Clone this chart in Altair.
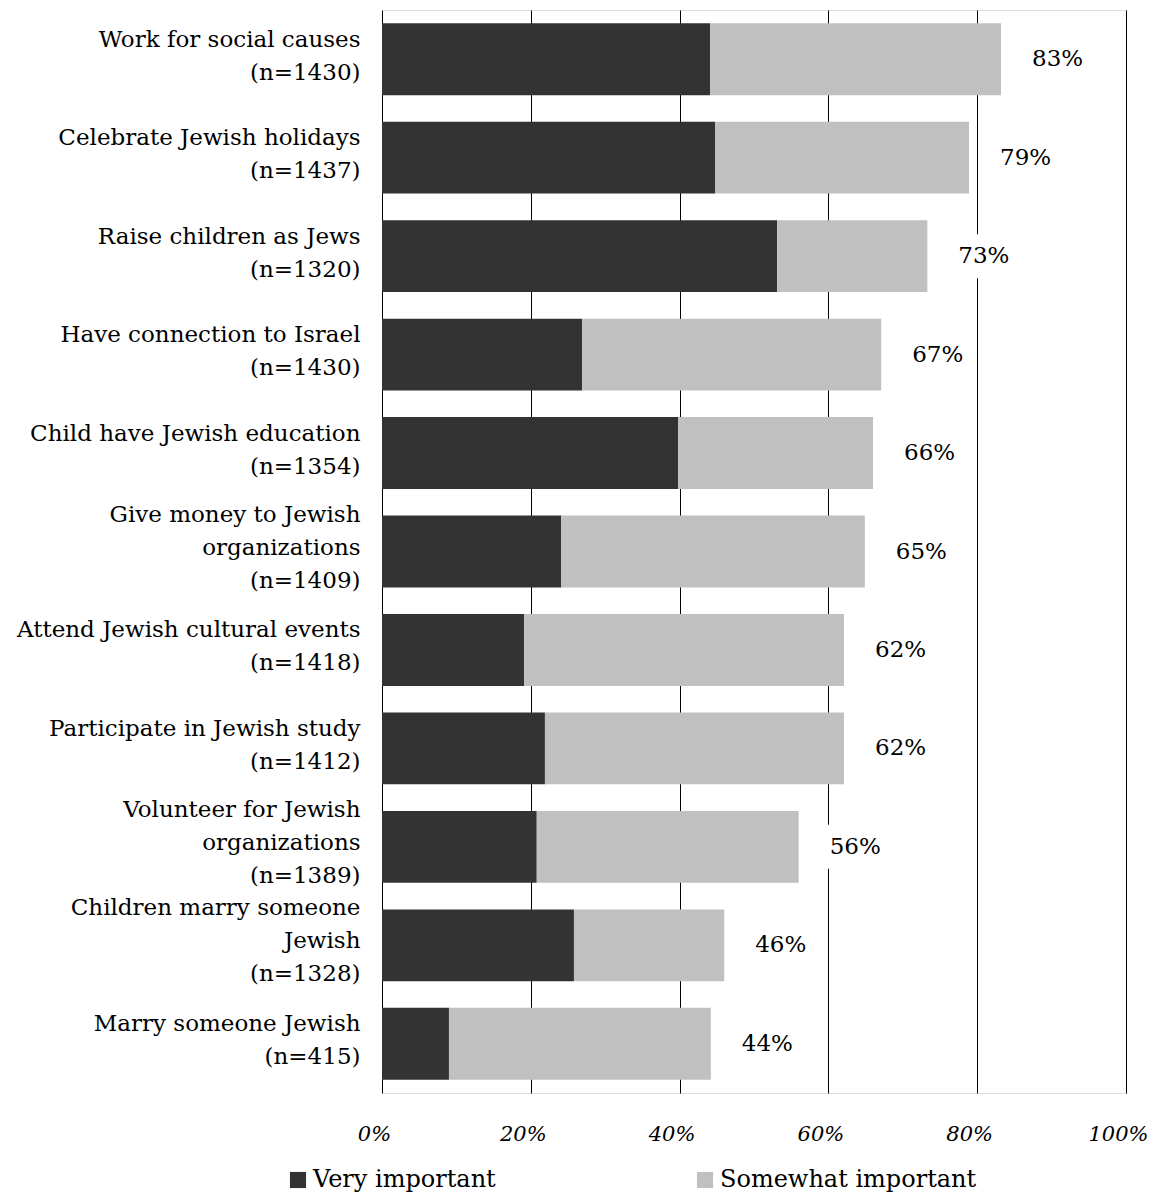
import altair as alt
import pandas as pd

categories = [
    "Work for social causes|(n=1430)",
    "Celebrate Jewish holidays|(n=1437)",
    "Raise children as Jews|(n=1320)",
    "Have connection to Israel|(n=1430)",
    "Child have Jewish education|(n=1354)",
    "Give money to Jewish|organizations|(n=1409)",
    "Attend Jewish cultural events|(n=1418)",
    "Participate in Jewish study|(n=1412)",
    "Volunteer for Jewish|organizations|(n=1389)",
    "Children marry someone|Jewish|(n=1328)",
    "Marry someone Jewish|(n=415)",
]
very_important = [44.1, 44.8, 53.1, 26.9, 39.8, 24.1, 19.1, 21.9, 20.8, 25.8, 9.0]
somewhat_important = [39.1, 34.1, 20.2, 40.2, 26.2, 40.8, 43.0, 40.2, 35.2, 20.2, 35.2]
total_labels = ["83%", "79%", "73%", "67%", "66%", "65%", "62%", "62%", "56%", "46%", "44%"]
series = ["Very important", "Somewhat important"]
colors = ["#333333", "#c0c0c0"]

rows = []
for c, v, s in zip(categories, very_important, somewhat_important):
    rows.append({"cat": c, "series": series[0], "value": v, "ord": 0})
    rows.append({"cat": c, "series": series[1], "value": s, "ord": 1})
df = pd.DataFrame(rows)

tot = pd.DataFrame({
    "cat": categories,
    "total": [v + s for v, s in zip(very_important, somewhat_important)],
    "label": total_labels,
})

FONT = "DejaVu Serif"
LH = 33

y_enc = alt.Y(
    "cat:N",
    sort=categories,
    title=None,
    scale=alt.Scale(paddingInner=0.27, paddingOuter=0.135),
    axis=alt.Axis(
        labelExpr="split(datum.label, '|')",
        labelFont=FONT,
        labelFontSize=23,
        labelColor="black",
        labelLineHeight=LH,
        labelPadding=22,
        labelOffset={
            "condition": {"test": "length(split(datum.label, '|')) == 3", "value": -LH - 4},
            "value": -LH / 2 - 3,
        },
        ticks=False,
        domain=False,
        grid=False,
        labelLimit=500,
    ),
)

x_scale = alt.Scale(domain=[0, 100], nice=False)

bars = alt.Chart(df).mark_bar().encode(
    x=alt.X(
        "value:Q",
        stack="zero",
        scale=x_scale,
        title=None,
        axis=alt.Axis(
            values=[0, 20, 40, 60, 80, 100],
            labelExpr="datum.value + '%'",
            labelFont=FONT,
            labelFontStyle="italic",
            labelFontSize=21,
            labelColor="black",
            labelPadding=30,
            labelOffset=-8,
            labelFlush=False,
            ticks=False,
            domain=False,
            grid=True,
            gridColor="black",
            gridOpacity=1,
            gridWidth=1,
        ),
    ),
    y=y_enc,
    color=alt.Color(
        "series:N",
        scale=alt.Scale(domain=series, range=colors),
        legend=alt.Legend(
            title=None,
            orient="none",
            legendX=-96,
            legendY=1158,
            direction="horizontal",
            columns=2,
            columnPadding=197,
            symbolType="square",
            symbolSize=260,
            symbolStrokeWidth=0,
            labelFont=FONT,
            labelFontSize=24,
            labelColor="black",
            labelOffset=3,
            labelLimit=400,
        ),
    ),
    order=alt.Order("ord:Q"),
)

boxes = alt.Chart(tot).mark_bar(color="white", size=44, xOffset=22, x2Offset=80).encode(
    x=alt.X("total:Q", scale=x_scale),
    x2="total:Q",
    y=alt.Y("cat:N", sort=categories),
)

labels = alt.Chart(tot).mark_text(
    align="left", baseline="middle", dx=31, font=FONT, fontSize=23, color="black"
).encode(
    x=alt.X("total:Q", scale=x_scale),
    y=alt.Y("cat:N", sort=categories),
    text="label:N",
)

chart = (
    alt.layer(bars, boxes, labels)
    .properties(
        width=744,
        height=1083,
        autosize=alt.AutoSizeParams(type="none"),
        padding={"left": 374, "top": 2, "right": 22, "bottom": 100},
    )
    .configure_view(stroke="black", strokeWidth=1)
    .configure(background="white")
)

chart.save("out.html", embed_options={"renderer": "svg", "actions": False})
